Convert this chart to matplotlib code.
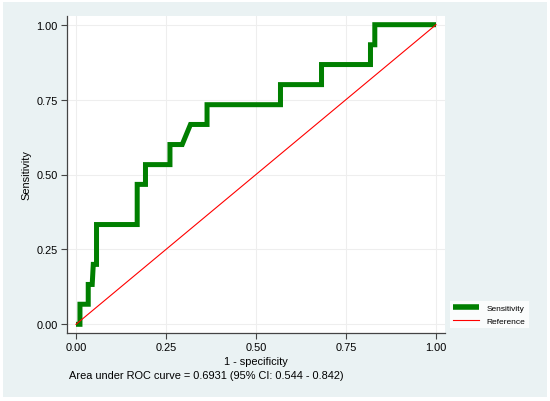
import numpy as np
import matplotlib
matplotlib.use("Agg")
import matplotlib.pyplot as plt
from matplotlib.patches import Rectangle

plt.rcParams["font.family"] = ["Liberation Sans", "DejaVu Sans"]

# ROC curve points (1 - specificity, sensitivity)
fpr = [0.0, 0.011, 0.011, 0.034, 0.034, 0.045, 0.048, 0.057, 0.057, 0.170, 0.170,
       0.193, 0.193, 0.261, 0.261, 0.295, 0.318, 0.364, 0.364, 0.568, 0.568,
       0.682, 0.682, 0.818, 0.818, 0.830, 0.830, 1.0]
tpr = [0.0, 0.0, 0.067, 0.067, 0.133, 0.133, 0.200, 0.200, 0.333, 0.333, 0.467,
       0.467, 0.533, 0.533, 0.600, 0.600, 0.667, 0.667, 0.733, 0.733, 0.800,
       0.800, 0.867, 0.867, 0.933, 0.933, 1.0, 1.0]
ref_x = [0.0, 1.0]
ref_y = [0.0, 1.0]

ticks = [0.0, 0.25, 0.5, 0.75, 1.0]
tick_labels = ["0.00", "0.25", "0.50", "0.75", "1.00"]
auc_note = "Area under ROC curve = 0.6931 (95% CI: 0.544 - 0.842)"

W, H = 550, 402
fig = plt.figure(figsize=(W / 100, H / 100), dpi=100, facecolor="white")
fig.patches.append(Rectangle((3 / W, 4 / H), 544 / W, 395 / H,
                             transform=fig.transFigure, facecolor="#EAF2F3",
                             edgecolor="none", zorder=-10))

ax = fig.add_axes([67 / W, (H - 334) / H, (445 - 67) / W, (334 - 17) / H])
ax.set_facecolor("white")

ax.plot(fpr, tpr, color="#007F00", lw=3.6, solid_joinstyle="miter",
        solid_capstyle="butt", label="Sensitivity", zorder=3)
ax.plot(ref_x, ref_y, color="#FF0000", lw=0.8, label="Reference", zorder=4)

ax.set_xlim(-0.025, 1.025)
ax.set_ylim(-0.029, 1.029)
ax.set_xticks(ticks)
ax.set_xticklabels(tick_labels)
ax.set_yticks(ticks)
ax.set_yticklabels(tick_labels)
ax.grid(True, color="#EEEEEE", lw=0.8)
ax.set_axisbelow(True)

for s in ["top", "right"]:
    ax.spines[s].set_visible(False)
for s in ["left", "bottom"]:
    ax.spines[s].set_color("#444444")
    ax.spines[s].set_linewidth(0.9)
ax.tick_params(direction="out", length=4.5, width=0.8, color="#444444",
               labelsize=7.9, pad=2)

ax.set_xlabel("1 - specificity", fontsize=7.9, labelpad=3)
ax.set_ylabel("Sensitivity", fontsize=7.9, labelpad=4)

fig.text(69 / W, (H - 376) / H, auc_note, fontsize=7.9, ha="left", va="center")

leg = ax.legend(loc="lower left", bbox_to_anchor=(450 / W, (H - 329) / H),
                bbox_transform=fig.transFigure, frameon=True, fancybox=False,
                fontsize=6.0, handlelength=3.1, borderaxespad=0,
                borderpad=0.4, labelspacing=0.55, handletextpad=0.9)
leg.get_frame().set_facecolor("white")
leg.get_frame().set_edgecolor("none")
leg.get_lines()[0].set_linewidth(4)

fig.savefig("out.png", dpi=100, facecolor=fig.get_facecolor())
